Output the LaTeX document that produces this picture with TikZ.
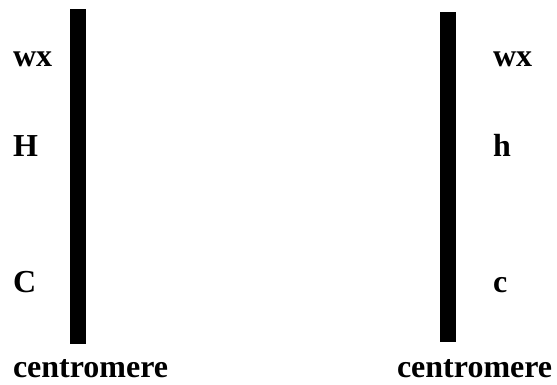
\documentclass[tikz,border=0pt]{standalone}
\usepackage{fontspec}
\setmainfont{Liberation Serif}
\begin{document}
\begin{tikzpicture}[x=1pt,y=-1pt,
  lbl/.style={anchor=base west,inner sep=0pt,outer sep=0pt,font=\fontsize{32}{38}\selectfont\bfseries},
  chrom/.style={fill=black}]
\useasboundingbox (0,0) rectangle (557,385);
% chromosomes
\fill[chrom] (70,9) rectangle (85.5,344);
\fill[chrom] (440,12.5) rectangle (456,342);
% left labels
\node[lbl] (lwx) at (13,67) {wx};
\node[lbl] (lH) at (13,157) {H};
\node[lbl] (lC) at (13,292) {C};
\node[lbl] (lcen) at (13,377) {centromere};
% right labels
\node[lbl] (rwx) at (493,67) {wx};
\node[lbl] (rh) at (493,157) {h};
\node[lbl] (rc) at (493,292) {c};
\node[lbl] (rcen) at (397,377) {centromere};
\end{tikzpicture}
\end{document}
